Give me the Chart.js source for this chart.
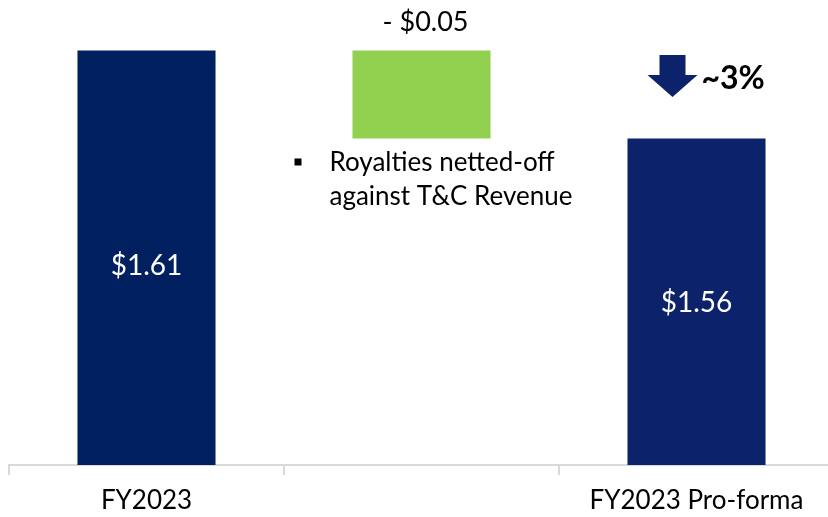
<!DOCTYPE html>
<html>
<head>
<meta charset="utf-8">
<script src="https://cdn.jsdelivr.net/npm/chart.js@4.4.0/dist/chart.umd.min.js"></script>
<style>
    body { margin: 0; background: #fff; overflow: hidden; }
    /* plot runs slightly past the right edge, like the original slide */
    #wrap { width: 834px; height: 517px; }
</style>
</head>
<body>
<div id="wrap"><canvas id="bridgeChart"></canvas></div>
<script>
const categories = ['FY2023', '', 'FY2023 Pro-forma'];
const startValue = 1.61;
const royaltyChange = -0.05;
const endValue = 1.56;
const barLabels = ['$1.61', '- $0.05', '$1.56'];
const noteLines = ['Royalties netted-off', 'against T&C Revenue'];
const changeLabel = '~3%';

const navy = '#002060';
const navy2 = '#0C226B';
const green = '#92D050';
const fontFamily = 'Lato, "Open Sans", sans-serif';

// floating bar for the middle step
const barData = [startValue, [startValue + royaltyChange, startValue], endValue];

const annotations = {
    id: 'annotations',
    afterDatasetsDraw(chart) {
        const ctx = chart.ctx;
        const bars = chart.getDatasetMeta(0).data;
        const y = chart.scales.y;
        const bottom = chart.chartArea.bottom;
        ctx.save();
        ctx.textAlign = 'center';
        ctx.textBaseline = 'middle';

        // values inside the blue bars
        ctx.fillStyle = '#ffffff';
        ctx.font = '28px ' + fontFamily;
        const y1 = y.getPixelForValue(startValue);
        const y3 = y.getPixelForValue(endValue);
        ctx.fillText(barLabels[0], bars[0].x, (y1 + bottom) / 2 + 8);
        ctx.fillText(barLabels[2], bars[2].x, (y3 + bottom) / 2 + 1);

        // step value above the green bar
        ctx.fillStyle = '#000000';
        ctx.font = '27px ' + fontFamily;
        ctx.fillText(barLabels[1], bars[1].x + 4, 22);

        // bullet note below the green bar
        ctx.textAlign = 'left';
        ctx.font = '26px ' + fontFamily;
        const noteX = bars[1].x - 92;
        const noteY = y.getPixelForValue(startValue + royaltyChange) + 24;
        ctx.fillRect(noteX - 35, noteY - 4, 7, 7);
        ctx.fillText(noteLines[0], noteX, noteY);
        ctx.fillText(noteLines[1], noteX, noteY + 34);

        // down arrow and % change
        const ax = bars[2].x - 24;
        const top = 55;
        ctx.fillStyle = navy2;
        ctx.beginPath();
        ctx.moveTo(ax - 13, top);
        ctx.lineTo(ax + 13, top);
        ctx.lineTo(ax + 13, top + 20);
        ctx.lineTo(ax + 25, top + 20);
        ctx.lineTo(ax, top + 42);
        ctx.lineTo(ax - 25, top + 20);
        ctx.lineTo(ax - 13, top + 20);
        ctx.closePath();
        ctx.fill();

        ctx.fillStyle = '#000000';
        ctx.font = 'bold 32px ' + fontFamily;
        ctx.fillText(changeLabel, ax + 29, 79);
        ctx.restore();
    }
};

new Chart(document.getElementById('bridgeChart'), {
    type: 'bar',
    data: {
        labels: categories,
        datasets: [{
            data: barData,
            backgroundColor: [navy, green, navy2],
            barPercentage: 1,
            categoryPercentage: 0.502
        }]
    },
    options: {
        responsive: true,
        maintainAspectRatio: false,
        animation: false,
        layout: { padding: { left: 9, right: 0, top: 0, bottom: 0 } },
        plugins: {
            legend: { display: false },
            tooltip: { enabled: false }
        },
        scales: {
            x: {
                afterFit(scale) { scale.height = 52; },
                grid: {
                    drawOnChartArea: false,
                    color: '#D9D9D9',
                    lineWidth: 2,
                    tickLength: 10
                },
                border: { color: '#D9D9D9', width: 2 },
                ticks: {
                    color: '#000000',
                    padding: 10,
                    font: { family: fontFamily, size: 26 }
                }
            },
            y: {
                display: false,
                min: 1.3747,
                max: 1.6386
            }
        }
    },
    plugins: [annotations]
});
</script>
</body>
</html>
